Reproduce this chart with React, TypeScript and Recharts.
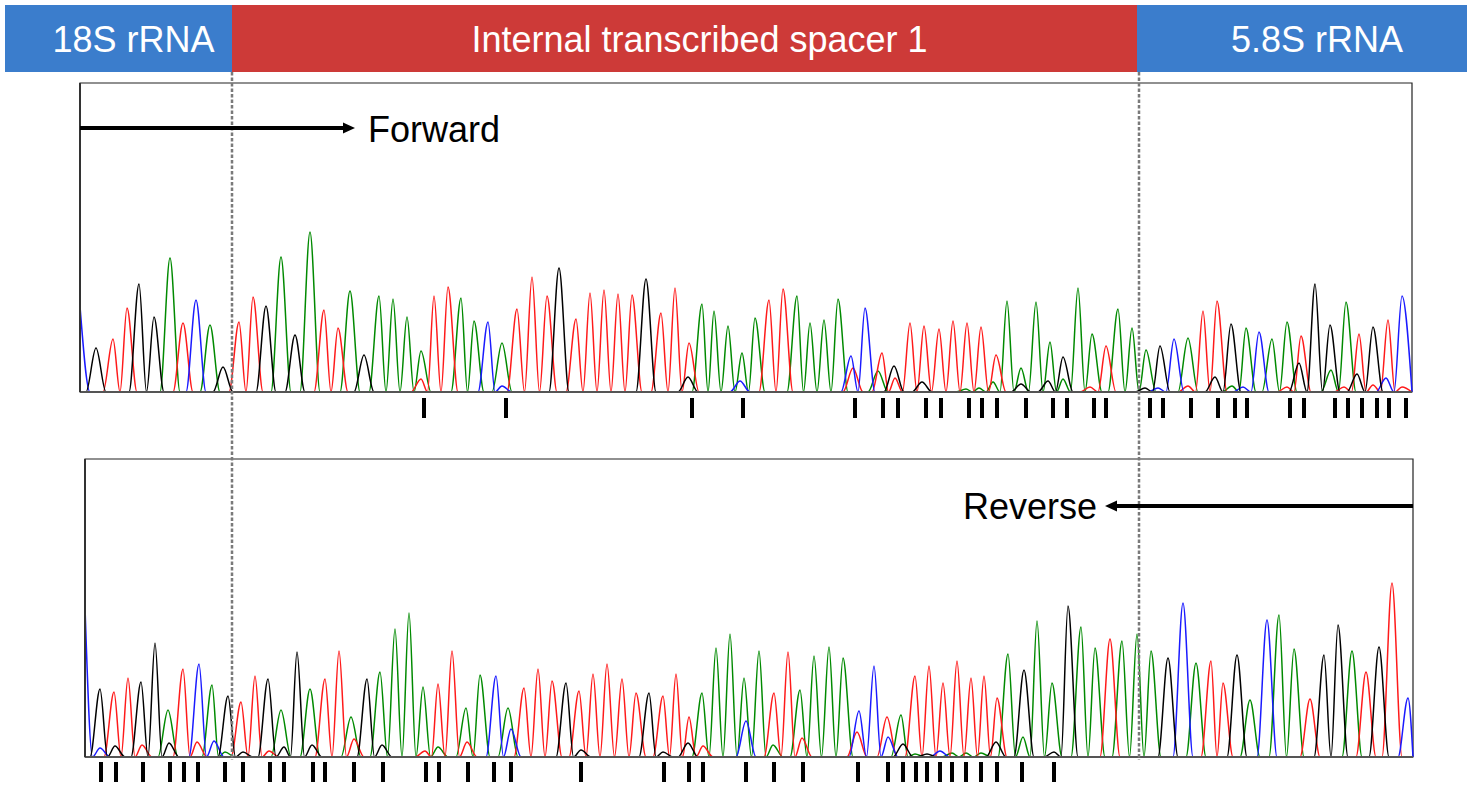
import {
  ComposedChart,
  Line,
  Scatter,
  XAxis,
  YAxis,
  ReferenceArea,
  ReferenceLine,
} from 'recharts';

// peaks are [scan position, signal height]
type Peak = [number, number];

// rRNA regions along the read (scan positions)
const regionNames = ['18S rRNA', 'Internal transcribed spacer 1', '5.8S rRNA'];
const regionEdges = [5, 232, 1137, 1467];
const regionColors = ['#3b7dcc', '#cd3a38', '#3b7dcc'];
const spacerBounds = [232, 1139];

// forward read
const fwdBlue: Peak[] = [[80, 86], [196, 92], [488, 70], [502, 6], [740, 11], [851, 36], [865, 84], [1158, 4], [1174, 53], [1243, 5], [1259, 60], [1386, 14], [1402, 96]];
const fwdBlack: Peak[] = [[96, 44], [139, 108], [154, 75], [223, 25], [266, 86], [295, 57], [364, 37], [559, 124], [646, 113], [688, 15], [894, 26], [922, 10], [1021, 8], [1048, 11], [1063, 35], [1145, 4], [1160, 46], [1215, 15], [1231, 68], [1299, 29], [1315, 108], [1330, 67], [1357, 18], [1373, 65]];
const fwdGreen: Peak[] = [[170, 134], [210, 67], [281, 135], [310, 160], [350, 101], [379, 96], [393, 93], [407, 75], [421, 41], [461, 94], [474, 71], [502, 49], [702, 88], [714, 81], [728, 66], [742, 39], [755, 74], [797, 96], [810, 69], [824, 72], [838, 93], [878, 21], [966, 3], [979, 4], [993, 10], [1007, 91], [1021, 24], [1036, 90], [1050, 50], [1063, 13], [1078, 104], [1092, 58], [1118, 83], [1132, 64], [1146, 42], [1188, 54], [1232, 6], [1246, 64], [1272, 53], [1287, 70], [1331, 22], [1346, 90]];
const fwdRed: Peak[] = [[113, 53], [127, 84], [183, 69], [239, 70], [253, 95], [324, 82], [338, 64], [421, 13], [434, 96], [448, 105], [517, 83], [532, 115], [547, 96], [576, 73], [590, 99], [604, 102], [618, 98], [632, 97], [661, 79], [675, 104], [689, 49], [769, 92], [783, 103], [853, 24], [882, 39], [895, 14], [910, 69], [924, 66], [939, 63], [953, 71], [967, 69], [981, 65], [996, 37], [1090, 5], [1106, 46], [1188, 6], [1203, 81], [1217, 91], [1287, 5], [1301, 56], [1344, 5], [1359, 58], [1373, 7], [1388, 72], [1402, 5]];
const fwdTicks = [424, 506, 692, 743, 855, 883, 898, 926, 941, 969, 982, 997, 1026, 1053, 1067, 1094, 1106, 1150, 1163, 1191, 1218, 1235, 1247, 1290, 1304, 1335, 1348, 1362, 1377, 1389, 1406];

// reverse read
const revBlue: Peak[] = [[85, 150], [100, 9], [199, 93], [214, 16], [496, 81], [511, 28], [746, 36], [859, 46], [874, 91], [888, 20], [940, 6], [1183, 154], [1267, 137], [1408, 59]];
const revBlack: Peak[] = [[100, 68], [115, 11], [141, 75], [155, 114], [169, 14], [228, 61], [243, 5], [268, 78], [284, 10], [297, 105], [312, 12], [367, 78], [382, 12], [566, 74], [581, 7], [649, 64], [663, 5], [688, 14], [903, 13], [927, 3], [996, 15], [1024, 87], [1054, 5], [1068, 151], [1168, 99], [1237, 102], [1324, 102], [1338, 132], [1379, 110]];
const revGreen: Peak[] = [[168, 47], [212, 72], [225, 5], [281, 47], [310, 68], [351, 40], [380, 85], [395, 128], [409, 144], [423, 70], [438, 10], [466, 49], [480, 82], [508, 49], [702, 64], [716, 109], [730, 123], [744, 79], [759, 106], [773, 12], [800, 67], [814, 101], [829, 110], [843, 99], [901, 42], [915, 3], [952, 4], [966, 4], [981, 4], [1008, 103], [1023, 20], [1037, 136], [1052, 74], [1081, 130], [1095, 109], [1122, 116], [1137, 123], [1151, 106], [1196, 94], [1250, 57], [1279, 142], [1294, 108], [1352, 106]];
const revRed: Peak[] = [[114, 65], [128, 79], [142, 12], [183, 88], [197, 15], [241, 55], [255, 81], [269, 6], [325, 78], [339, 106], [354, 18], [425, 6], [438, 73], [452, 106], [467, 15], [524, 69], [538, 88], [552, 76], [579, 66], [593, 83], [607, 93], [622, 78], [636, 64], [663, 61], [676, 83], [689, 40], [703, 11], [774, 64], [788, 105], [802, 19], [857, 25], [887, 40], [915, 81], [929, 91], [943, 74], [957, 96], [971, 79], [984, 81], [997, 59], [1110, 118], [1211, 96], [1223, 74], [1310, 58], [1366, 85], [1392, 174]];
const revTicks = [101, 116, 143, 170, 184, 198, 225, 243, 270, 284, 313, 325, 354, 383, 426, 439, 468, 494, 511, 581, 664, 689, 703, 746, 774, 803, 858, 888, 903, 916, 927, 940, 952, 966, 981, 997, 1022, 1054];

const W = 1477;
const H = 786;
const HALF = 10; // half width of a peak base
const FONT = '"Liberation Sans", Arial, Helvetica, sans-serif';

const fwdPanel = { x1: 80, x2: 1412, top: 309 };
const revPanel = { x1: 85, x2: 1413, top: 298 };

// turn peak list into points the monotone curve passes through
function toTrace(peaks: Peak[], start: number, end: number) {
  const sorted = [...peaks].sort((a, b) => a[0] - b[0]);
  const pts: { x: number; y: number }[] = [];
  if (!sorted.length || sorted[0][0] - HALF > start) pts.push({ x: start, y: 0 });
  sorted.forEach(([x, h], i) => {
    const prev = sorted[i - 1];
    const next = sorted[i + 1];
    if (prev && x - prev[0] <= 2 * HALF) pts.push({ x: (x + prev[0]) / 2, y: 0 });
    else if (x - HALF > start) pts.push({ x: x - HALF, y: 0 });
    pts.push({ x, y: h });
    if (!(next && next[0] - x <= 2 * HALF)) {
      pts.push({ x: Math.min(x + HALF, end), y: 0 });
    }
  });
  const last = sorted[sorted.length - 1];
  if (!last || last[0] + HALF < end) pts.push({ x: end, y: 0 });
  return pts;
}

const traceColors = { green: '#008a00', red: '#ff1a1a', blue: '#1a1aff', black: '#000000' };

const fwdTraces = [
  { key: 'fg', color: traceColors.green, data: toTrace(fwdGreen, fwdPanel.x1, fwdPanel.x2) },
  { key: 'fr', color: traceColors.red, data: toTrace(fwdRed, fwdPanel.x1, fwdPanel.x2) },
  { key: 'fb', color: traceColors.blue, data: toTrace(fwdBlue, fwdPanel.x1, fwdPanel.x2) },
  { key: 'fk', color: traceColors.black, data: toTrace(fwdBlack, fwdPanel.x1, fwdPanel.x2) },
];
const revTraces = [
  { key: 'rg', color: traceColors.green, data: toTrace(revGreen, revPanel.x1, revPanel.x2) },
  { key: 'rr', color: traceColors.red, data: toTrace(revRed, revPanel.x1, revPanel.x2) },
  { key: 'rb', color: traceColors.blue, data: toTrace(revBlue, revPanel.x1, revPanel.x2) },
  { key: 'rk', color: traceColors.black, data: toTrace(revBlack, revPanel.x1, revPanel.x2) },
];

const TickMark = (props: any) => (
  <rect x={props.cx - 2} y={props.cy - 10} width={4} height={20} fill="#000" />
);

const regionLabel = (name: string) => (props: any) => {
  const vb = props.viewBox || {};
  return (
    <text
      x={vb.x + vb.width / 2 + 15}
      y={vb.y + vb.height / 2 + 13}
      textAnchor="middle"
      fill="#fff"
      fontSize={36}
      fontFamily={FONT}
    >
      {name}
    </text>
  );
};

// dashed boundary drawn as a plain segment so its width is honoured
const DashedBound = (props: any) => (
  <line x1={props.x1} y1={props.y1} x2={props.x2} y2={props.y2}
    stroke="#7a7a7a" strokeWidth={2.5} strokeDasharray="3.5 2" />
);

export default function App() {
  return (
    <div style={{ position: 'absolute', left: 0, top: 0, width: W, height: H, background: '#fff' }}>
      <ComposedChart width={W} height={H} margin={{ top: 0, right: 0, bottom: 0, left: 0 }}>
        <XAxis type="number" dataKey="x" domain={[0, W]} allowDataOverflow hide />
        {/* each axis: 1 unit per pixel, zero sitting on the panel baseline */}
        <YAxis yAxisId="fwd" type="number" dataKey="y" domain={[-394, 392]} allowDataOverflow hide />
        <YAxis yAxisId="rev" type="number" dataKey="y" domain={[-29, 757]} allowDataOverflow hide />
        <YAxis yAxisId="px" type="number" dataKey="y" domain={[0, H]} reversed allowDataOverflow hide />

        {regionNames.map((name, i) => (
          <ReferenceArea
            key={name}
            yAxisId="px"
            x1={regionEdges[i]}
            x2={regionEdges[i + 1]}
            y1={5}
            y2={72}
            fill={regionColors[i]}
            fillOpacity={1}
            stroke="none"
            label={regionLabel(name)}
          />
        ))}

        <ReferenceArea yAxisId="fwd" x1={fwdPanel.x1} x2={fwdPanel.x2} y1={0} y2={fwdPanel.top}
          fill="none" fillOpacity={0} stroke="#222" strokeWidth={1.2} />
        <ReferenceArea yAxisId="rev" x1={revPanel.x1} x2={revPanel.x2} y1={0} y2={revPanel.top}
          fill="none" fillOpacity={0} stroke="#222" strokeWidth={1.2} />

        {fwdTraces.map((t) => (
          <Line key={t.key} yAxisId="fwd" data={t.data} dataKey="y" type="monotone" stroke={t.color}
            strokeWidth={1.5} dot={false} activeDot={false} isAnimationActive={false} />
        ))}
        {revTraces.map((t) => (
          <Line key={t.key} yAxisId="rev" data={t.data} dataKey="y" type="monotone" stroke={t.color}
            strokeWidth={1.5} dot={false} activeDot={false} isAnimationActive={false} />
        ))}

        <ReferenceLine yAxisId="fwd" segment={[{ x: fwdPanel.x1, y: 0 }, { x: fwdPanel.x2, y: 0 }]} stroke="#555" strokeWidth={2} />
        <ReferenceLine yAxisId="fwd" segment={[{ x: fwdPanel.x1, y: 0 }, { x: fwdPanel.x1, y: fwdPanel.top }]} stroke="#333" strokeWidth={2} />
        <ReferenceLine yAxisId="rev" segment={[{ x: revPanel.x1, y: 0 }, { x: revPanel.x2, y: 0 }]} stroke="#555" strokeWidth={2} />
        <ReferenceLine yAxisId="rev" segment={[{ x: revPanel.x1, y: 0 }, { x: revPanel.x1, y: revPanel.top }]} stroke="#333" strokeWidth={2} />

        <Scatter yAxisId="fwd" data={fwdTicks.map((x) => ({ x, y: -16 }))} shape={TickMark} isAnimationActive={false} />
        <Scatter yAxisId="rev" data={revTicks.map((x) => ({ x, y: -15 }))} shape={TickMark} isAnimationActive={false} />

        {spacerBounds.map((x) => (
          <ReferenceLine key={x} yAxisId="px" segment={[{ x, y: 72 }, { x, y: 760 }]} shape={DashedBound} />
        ))}
      </ComposedChart>

      {/* read direction arrows */}
      <svg width={W} height={H} style={{ position: 'absolute', left: 0, top: 0, pointerEvents: 'none' }}>
        <line x1={80} y1={128} x2={344} y2={128} stroke="#000" strokeWidth={4} />
        <polygon points="343,122.5 355,128 343,133.5" fill="#000" />
        <text x={368} y={142} fontSize={36} fontFamily={FONT} fill="#000">Forward</text>

        <line x1={1413} y1={506} x2={1116} y2={506} stroke="#000" strokeWidth={4} />
        <polygon points="1117,500.5 1105,506 1117,511.5" fill="#000" />
        <text x={963} y={519} fontSize={36} fontFamily={FONT} fill="#000">Reverse</text>
      </svg>
    </div>
  );
}
